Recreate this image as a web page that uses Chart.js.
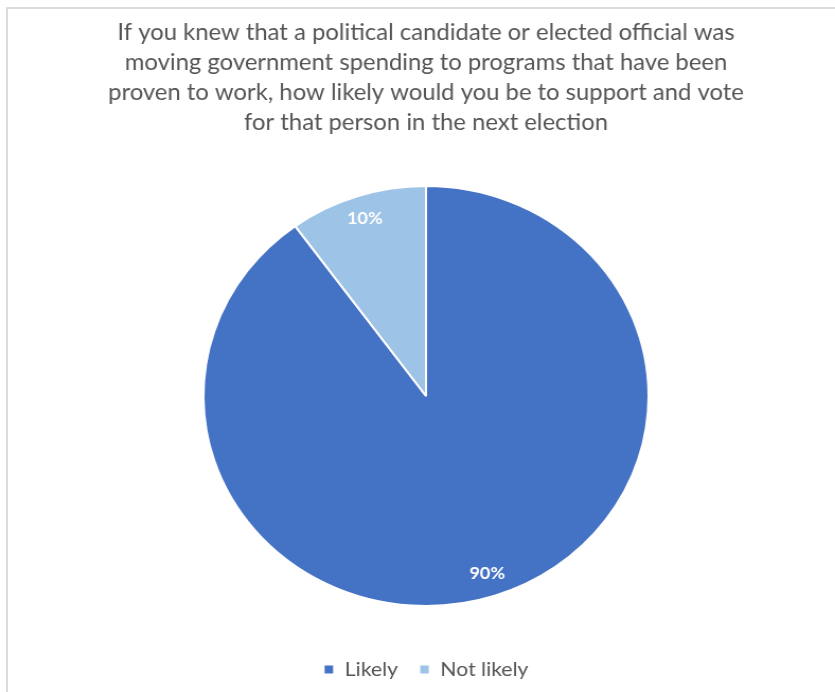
<!DOCTYPE html>
<html>
<head>
<meta charset="utf-8">
<script src="https://cdn.jsdelivr.net/npm/chart.js@4"></script>
<style>
    body { margin: 0; background: #fff; overflow: hidden; }
    #frame {
        position: absolute; left: 6px; top: 7px; width: 900px; height: 800px;
        border-left: 2px solid #dcdcdc; border-top: 2px solid #dcdcdc;
    }
    #wrap {
        position: absolute; left: 0; top: 0; width: 788px; height: 692px;
        transform: scaleX(1.0597); transform-origin: 0 0;
    }
</style>
</head>
<body>
<div id="frame"></div>
<div id="wrap"><canvas id="chart1" width="788" height="692"></canvas></div>
<script>
    var categories = ['Likely', 'Not likely'];
    var shares = [90, 10];
    var titleLines = [
        'If you knew that a political candidate or elected official was',
        'moving government spending to programs that have been',
        'proven to work, how likely would you be to support and vote',
        'for that person in the next election'
    ];
    var sliceColors = ['#4472C4', '#9DC3E6'];

    // white percentage labels inside each slice
    var sliceLabels = {
        id: 'sliceLabels',
        afterDatasetsDraw: function(chart) {
            var ctx = chart.ctx;
            var meta = chart.getDatasetMeta(0);
            ctx.save();
            ctx.font = 'bold 17px Lato';
            ctx.fillStyle = '#ffffff';
            ctx.textAlign = 'center';
            ctx.textBaseline = 'middle';
            meta.data.forEach(function(arc, i) {
                var p = arc.getProps(['x', 'y', 'startAngle', 'endAngle', 'outerRadius'], true);
                var mid = (p.startAngle + p.endAngle) / 2;
                var r = p.outerRadius * 0.89;
                ctx.fillText(shares[i] + '%', p.x + Math.cos(mid) * r, p.y + Math.sin(mid) * r);
            });
            ctx.restore();
        }
    };

    var ctx = document.getElementById('chart1').getContext('2d');
    var myChart = new Chart(ctx, {
        type: 'pie',
        data: {
            labels: categories,
            datasets: [{
                data: shares,
                backgroundColor: sliceColors,
                borderColor: '#ffffff',
                borderWidth: 2
            }]
        },
        options: {
            responsive: false,
            animation: false,
            radius: 210,
            layout: {
                padding: { left: 16, right: 0, top: 0, bottom: 2.5 }
            },
            plugins: {
                title: {
                    display: true,
                    text: titleLines,
                    color: '#555555',
                    font: { family: 'Lato', size: 22.5, weight: 'normal', lineHeight: 30 / 22.5 },
                    padding: { top: 18, bottom: 14.5 }
                },
                legend: {
                    position: 'bottom',
                    labels: {
                        color: '#555555',
                        font: { family: 'Lato', size: 20 },
                        boxWidth: 10,
                        boxHeight: 10,
                        padding: 20
                    }
                },
                tooltip: { enabled: false }
            }
        },
        plugins: [sliceLabels]
    });
</script>
</body>
</html>
